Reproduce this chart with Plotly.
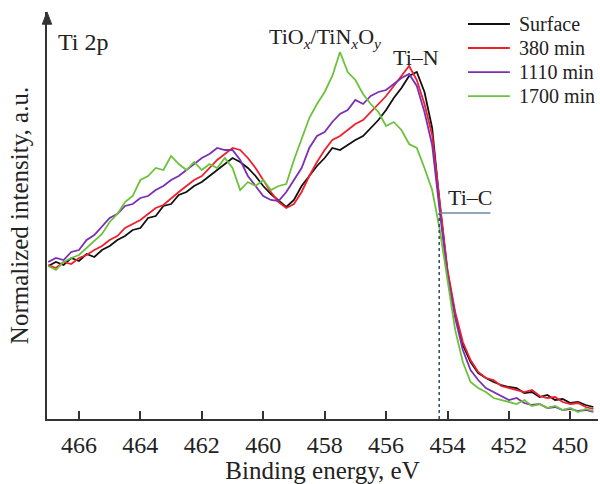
import plotly.graph_objects as go

# Binding energy grid (eV)
energy = [467.00 - 0.25 * i for i in range(72)]

surface = [153,157,154,161,158,165,162,169,173,179, 183,189,191,201,203,213,215,224,227,233,
           237,243,249,255,261,257,251,243,233,225, 218,212,219,233,243,253,261,271,269,274,
           279,283,291,299,309,321,331,343,347,327, 291,214,147,104,74,57,46,41,37,34,
           32,31,26,27,22,24,19,20,16,17, 14,12]
min380 = [154,151,157,155,161,164,169,173,179,183, 191,195,199,205,211,214,221,227,233,239,
          243,251,259,265,271,269,261,251,239,227, 217,211,215,227,243,257,269,279,283,289,
          295,299,307,315,323,333,343,353,339,315, 284,214,149,107,77,59,47,41,39,33,
          31,29,27,29,23,21,22,17,15,16, 12,10]
min1110 = [157,161,159,167,169,179,184,193,201,205, 213,215,221,223,229,233,239,243,249,255,
           261,265,271,269,269,259,243,233,223,219, 218,227,239,251,271,283,287,297,305,309,
           319,315,323,327,329,335,341,345,333,307, 274,207,143,101,69,49,39,31,27,23,
           19,21,16,14,15,11,12,9,10,8, 9,7]
min1700 = [153,149,157,161,164,171,179,185,197,205, 217,223,239,243,251,249,263,255,249,257,
           249,255,251,261,251,229,237,233,239,229, 233,235,259,281,301,315,327,343,367,347,
           339,325,315,307,293,297,289,275,271,251, 229,189,137,89,57,37,31,27,21,19,
           17,15,19,13,15,11,13,9,11,7, 10,8]

series_names = ["Surface", "380 min", "1110 min", "1700 min"]
series_colors = ["#111111", "#f01f2e", "#7a2fb5", "#6cc23a"]
series_data = [surface, min380, min1110, min1700]

x_ticks = [466, 464, 462, 460, 458, 456, 454, 452, 450]
ti_c_energy = 454.27
ti_c_level = 206

FONT = "Liberation Serif"
TXT = "#222222"

fig = go.Figure()
for name, col, vals in zip(series_names, series_colors, series_data):
    fig.add_trace(go.Scatter(x=energy, y=vals, mode="lines", name=name,
                             line=dict(color=col, width=1.8), showlegend=False))

# Legend drawn as line samples + text (tight row spacing like the reference)
leg_top, leg_step = 0.9705, 0.059
for i, (name, col) in enumerate(zip(series_names, series_colors)):
    yy = leg_top - i * leg_step
    fig.add_shape(type="line", xref="paper", yref="paper", x0=0.764, x1=0.840,
                  y0=yy, y1=yy, line=dict(color=col, width=1.8))
    fig.add_annotation(xref="paper", yref="paper", x=0.853, y=yy, xanchor="left",
                       yanchor="middle", text=name, showarrow=False,
                       font=dict(family=FONT, size=20, color=TXT))

# Ti-C marker lines
fig.add_shape(type="line", xref="x", yref="y", x0=ti_c_energy, x1=ti_c_energy,
              y0=0, y1=ti_c_level, line=dict(color="#2b4a5c", width=1.5, dash="dot"))
fig.add_shape(type="line", xref="x", yref="y", x0=ti_c_energy, x1=452.6,
              y0=ti_c_level, y1=ti_c_level, line=dict(color="#6a8aa0", width=1.5))

# y-axis arrow head
fig.add_shape(type="path", xref="paper", yref="paper",
              path="M -0.0085 0.970 L 0 1.0 L 0.0085 0.970 Z",
              fillcolor="#333333", line=dict(color="#333333", width=1))

ann_font = dict(family=FONT, size=22, color=TXT)
fig.add_annotation(xref="paper", yref="paper", x=0.017, y=0.926, xanchor="left", yanchor="middle",
                   text="Ti 2p", showarrow=False, font=dict(family=FONT, size=24, color=TXT))
fig.add_annotation(xref="paper", yref="paper", x=0.40, y=0.935, xanchor="left", yanchor="middle",
                   text="TiO<sub><i>x</i></sub>/TiN<sub><i>x</i></sub>O<sub><i>y</i></sub>",
                   showarrow=False, font=ann_font)
fig.add_annotation(xref="paper", yref="paper", x=0.624, y=0.887, xanchor="left", yanchor="middle",
                   text="Ti–N", showarrow=False, font=ann_font)
fig.add_annotation(xref="paper", yref="paper", x=0.724, y=0.545, xanchor="left", yanchor="middle",
                   text="Ti–C", showarrow=False, font=ann_font)

fig.update_layout(
    width=600, height=484,
    margin=dict(l=47, r=2, t=12, b=65, autoexpand=False),
    paper_bgcolor="white", plot_bgcolor="white",
    font=dict(family=FONT, color=TXT),
    showlegend=False,
    xaxis=dict(range=[467.04, 449.1], tickvals=x_ticks, ticks="inside", ticklen=8,
               tickwidth=1.5, tickcolor="#333333", showline=True, linecolor="#333333",
               linewidth=1.5, showgrid=False, zeroline=False, ticklabelstandoff=3,
               tickfont=dict(family=FONT, size=24, color=TXT),
               title=dict(text="Binding energy, eV", font=dict(family=FONT, size=25, color=TXT),
                          standoff=0)),
    yaxis=dict(range=[0, 407], showticklabels=False, ticks="", showline=True,
               linecolor="#333333", linewidth=1.5, showgrid=False, zeroline=False,
               title=dict(text="Normalized intensity, a.u.",
                          font=dict(family=FONT, size=25, color=TXT), standoff=10)),
)

fig.write_html("out.html")
